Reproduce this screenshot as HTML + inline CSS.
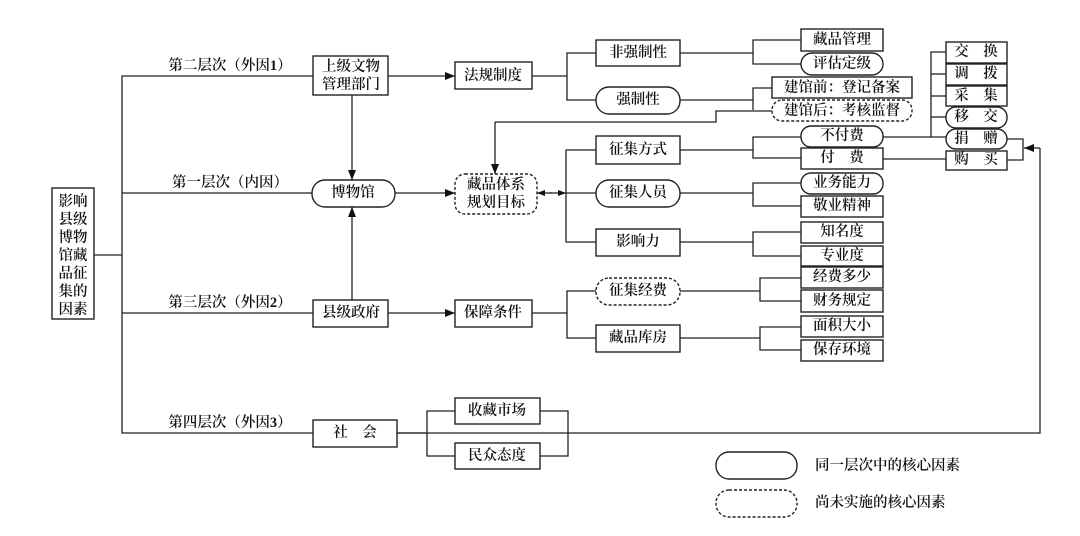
<!DOCTYPE html>
<html><head><meta charset="utf-8"><style>
html,body{margin:0;padding:0;background:#fff;}
svg{display:block;}
text{font-family:"Liberation Serif","Noto Serif CJK SC",serif;font-size:14.5px;font-weight:600;fill:#111;text-anchor:middle;dominant-baseline:central;}
.l{text-anchor:start;}
rect{fill:#fff;stroke:#222;stroke-width:1.4;}
.d{stroke-dasharray:3 2;}
line,polyline{stroke:#222;stroke-width:1.3;fill:none;}
</style></head><body>
<svg width="1080" height="536" viewBox="0 0 1080 536">
<defs><marker id="a" markerWidth="10" markerHeight="8" refX="10" refY="4" orient="auto" markerUnits="userSpaceOnUse"><path d="M0,0L10,4L0,8z" fill="#111"/></marker>
<marker id="s" markerWidth="8" markerHeight="6" refX="8" refY="3" orient="auto" markerUnits="userSpaceOnUse"><path d="M0,0L8,3L0,6z" fill="#111"/></marker></defs>
<line x1="94" y1="255" x2="122" y2="255"/>
<polyline points="313,76 122,76 122,433 568,433"/>
<line x1="122" y1="193" x2="313" y2="193"/>
<line x1="122" y1="313" x2="313" y2="313"/>
<rect x="52" y="188" width="42" height="131"/>
<text x="73" y="202">影响</text><text x="73" y="220">县级</text><text x="73" y="238">博物</text><text x="73" y="256">馆藏</text><text x="73" y="274">品征</text><text x="73" y="292">集的</text><text x="73" y="310">因素</text>
<text x="230" y="66">第二层次（外因1）</text>
<text x="230" y="183">第一层次（内因）</text>
<text x="230" y="303">第三层次（外因2）</text>
<text x="230" y="423">第四层次（外因3）</text>
<rect x="313" y="56" width="75" height="39"/>
<text x="351" y="67">上级文物</text><text x="351" y="85">管理部门</text>
<line x1="388" y1="76" x2="455" y2="76" marker-end="url(#a)"/>
<line x1="352" y1="95" x2="352" y2="180" marker-end="url(#a)"/>
<rect x="455" y="62" width="77" height="27"/><text x="493" y="76">法规制度</text>
<polyline points="532,76 567,76"/>
<polyline points="596,53 567,53 567,100 596,100"/>
<rect x="596" y="40" width="84" height="26"/><text x="638" y="53">非强制性</text>
<rect x="596" y="87" width="84" height="27" rx="13"/><text x="638" y="100">强制性</text>
<line x1="680" y1="53" x2="753" y2="53"/>
<polyline points="803,40 753,40 753,64 803,64"/>
<rect x="801" y="29" width="82" height="22"/><text x="842" y="40">藏品管理</text>
<rect x="801" y="53" width="82" height="22" rx="11"/><text x="842" y="64">评估定级</text>
<line x1="680" y1="100" x2="753" y2="100"/>
<polyline points="772,88 753,88 753,110"/>
<polyline points="772,111 716,111 716,122 495,122"/>
<line x1="495" y1="122" x2="495" y2="174" marker-end="url(#a)"/>
<rect x="772" y="77" width="140" height="21"/><text x="842" y="88">建馆前：登记备案</text>
<rect x="772" y="100" width="140" height="21" rx="10" class="d"/><text x="842" y="111">建馆后：考核监督</text>
<rect x="312" y="180" width="83" height="27" rx="13"/><text x="353" y="193">博物馆</text>
<line x1="395" y1="193" x2="455" y2="193" marker-end="url(#a)"/>
<rect x="455" y="174" width="82" height="40" rx="10" class="d"/>
<text x="496" y="185">藏品体系</text><text x="496" y="203">规划目标</text>
<line x1="552" y1="193" x2="537" y2="193" marker-end="url(#s)"/>
<line x1="550" y1="193" x2="566" y2="193" marker-end="url(#s)"/>
<line x1="566" y1="193" x2="596" y2="193"/>
<polyline points="596,150 566,150 566,242 596,242"/>
<rect x="596" y="136" width="84" height="28"/><text x="638" y="150">征集方式</text>
<rect x="596" y="180" width="84" height="27" rx="13"/><text x="638" y="193">征集人员</text>
<rect x="596" y="229" width="84" height="27"/><text x="638" y="242">影响力</text>
<line x1="680" y1="150" x2="753" y2="150"/>
<polyline points="801,137 753,137 753,158 801,158"/>
<rect x="801" y="126" width="82" height="21" rx="10"/><text x="842" y="136">不付费</text>
<rect x="801" y="148" width="82" height="21"/><text x="842" y="158">付　费</text>
<line x1="883" y1="137" x2="946" y2="137"/>
<polyline points="946,52 931,52 931,137"/>
<line x1="931" y1="74" x2="946" y2="74"/><line x1="931" y1="96" x2="946" y2="96"/><line x1="931" y1="117" x2="946" y2="117"/>
<line x1="883" y1="159" x2="946" y2="159"/>
<rect x="946" y="42" width="61" height="21"/><text x="976" y="52">交　换</text>
<rect x="946" y="64" width="61" height="21"/><text x="976" y="74">调　拨</text>
<rect x="946" y="86" width="61" height="20"/><text x="976" y="96">采　集</text>
<rect x="946" y="107" width="61" height="21" rx="10"/><text x="976" y="117">移　交</text>
<rect x="946" y="129" width="61" height="20" rx="10"/><text x="976" y="139">捐　赠</text>
<rect x="946" y="151" width="61" height="19"/><text x="976" y="160">购　买</text>
<polyline points="1007,139 1023,139 1023,160 1007,160"/>
<polyline points="568,433 1040,433 1040,148"/>
<line x1="1040" y1="148" x2="1024" y2="148" marker-end="url(#a)"/>
<line x1="680" y1="193" x2="753" y2="193"/>
<polyline points="801,183 753,183 753,206 801,206"/>
<rect x="801" y="173" width="82" height="21" rx="10"/><text x="842" y="183">业务能力</text>
<rect x="801" y="196" width="82" height="21"/><text x="842" y="206">敬业精神</text>
<line x1="680" y1="242" x2="753" y2="242"/>
<polyline points="801,232 753,232 753,256 801,256"/>
<rect x="801" y="222" width="82" height="21"/><text x="842" y="232">知名度</text>
<rect x="801" y="246" width="82" height="20"/><text x="842" y="256">专业度</text>
<line x1="352" y1="300" x2="352" y2="207" marker-end="url(#a)"/>
<rect x="313" y="300" width="75" height="27"/><text x="351" y="313">县级政府</text>
<line x1="388" y1="313" x2="455" y2="313" marker-end="url(#a)"/>
<rect x="455" y="300" width="77" height="27"/><text x="493" y="313">保障条件</text>
<line x1="532" y1="313" x2="567" y2="313"/>
<polyline points="596,291 567,291 567,338 596,338"/>
<rect x="596" y="278" width="84" height="27" rx="13" class="d"/><text x="638" y="291">征集经费</text>
<rect x="596" y="325" width="84" height="27"/><text x="638" y="338">藏品库房</text>
<line x1="680" y1="291" x2="760" y2="291"/>
<polyline points="801,278 760,278 760,301 801,301"/>
<line x1="680" y1="338" x2="760" y2="338"/>
<polyline points="801,327 760,327 760,350 801,350"/>
<rect x="801" y="267" width="82" height="21"/><text x="842" y="277">经费多少</text>
<rect x="801" y="290" width="82" height="22"/><text x="842" y="301">财务规定</text>
<rect x="801" y="316" width="82" height="21"/><text x="842" y="326">面积大小</text>
<rect x="801" y="340" width="82" height="21"/><text x="842" y="350">保存环境</text>
<rect x="313" y="420" width="84" height="27"/><text x="355" y="433">社　会</text>
<line x1="397" y1="433" x2="427" y2="433"/>
<polyline points="455,411 427,411 427,456 455,456"/>
<polyline points="540,411 568,411 568,456 540,456"/>
<rect x="455" y="398" width="85" height="26"/><text x="497" y="411">收藏市场</text>
<rect x="455" y="443" width="85" height="26"/><text x="497" y="456">民众态度</text>
<rect x="716" y="452" width="81" height="27" rx="13"/>
<text x="815" y="466" class="l">同一层次中的核心因素</text>
<rect x="716" y="490" width="81" height="27" rx="13" class="d"/>
<text x="815" y="503" class="l">尚未实施的核心因素</text>
</svg>
</body></html>
